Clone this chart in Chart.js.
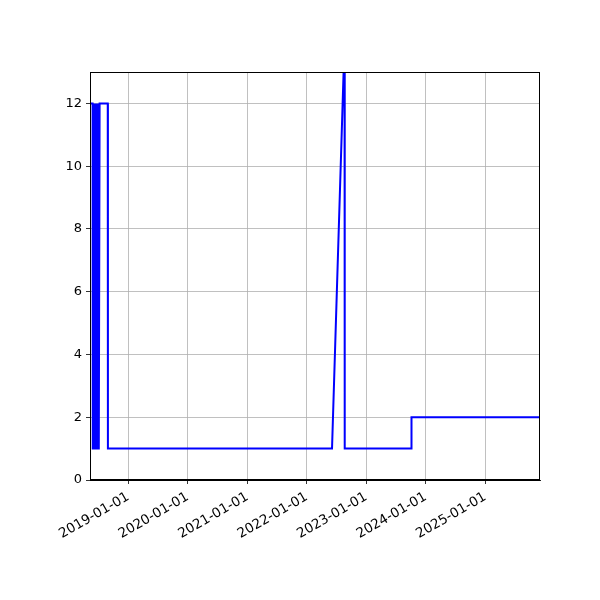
<!DOCTYPE html>
<html>
<head>
<meta charset="utf-8">
<script src="https://cdn.jsdelivr.net/npm/chart.js@4/dist/chart.umd.min.js"></script>
<style>
html,body{margin:0;padding:0;background:#fff;}
canvas{display:block;}
</style>
</head>
<body>
<canvas id="c" width="600" height="600"></canvas>
<script>
const dates = [
  "2018-05-11","2018-05-27","2018-05-28","2018-06-03","2018-06-05","2018-06-07",
  "2018-06-09","2018-06-11","2018-06-13","2018-06-15","2018-06-17","2018-06-19",
  "2018-06-21","2018-06-23","2018-06-25","2018-06-27","2018-06-29","2018-07-01",
  "2018-07-03","2018-07-05","2018-07-09","2018-08-28","2018-08-29","2022-06-05",
  "2022-08-21","2022-08-22","2023-10-05","2023-10-06","2025-12-03"
];
const values = [
  12,12,1,1,12,1,
  12,1,12,1,12,1,
  12,1,12,1,12,1,
  12,1,12,12,1,1,
  14,1,1,2,2
];
const tickYears = [2019,2020,2021,2022,2023,2024,2025];
const yTicks = [0,2,4,6,8,10,12];
const xMinDate = "2018-05-11";
const xMaxDate = "2025-12-03";

const pts = dates.map((d,i)=>({x:Date.parse(d+"T00:00:00Z"), y:values[i]}));
const xTickVals = tickYears.map(y=>Date.UTC(y,0,1));

function fmt(ms){
  const d = new Date(ms);
  const p = n=>String(n).padStart(2,'0');
  return d.getUTCFullYear()+"-"+p(d.getUTCMonth()+1)+"-"+p(d.getUTCDate());
}

const frame = {
  id:'frame',
  afterDraw(chart){
    const a = chart.chartArea, ctx = chart.ctx;
    ctx.save();
    ctx.strokeStyle='#000';
    ctx.lineWidth=1;
    ctx.strokeRect(Math.round(a.left)+0.5, Math.round(a.top)+0.5, Math.round(a.right-a.left)-1, Math.round(a.bottom-a.top)-1);
    ctx.restore();
  }
};

const xfont = {family:"DejaVu Sans", size:13.5};
const yfont = {family:"DejaVu Sans", size:13};

new Chart(document.getElementById('c'), {
  type:'line',
  data:{datasets:[{
    data:pts,
    borderColor:'#0000ff',
    borderWidth:2,
    pointRadius:0,
    tension:0,
    fill:false
  }]},
  options:{
    responsive:false,
    animation:false,
    devicePixelRatio:1,
    layout:{padding:{top:72,right:60,left:0,bottom:0}},
    plugins:{legend:{display:false},tooltip:{enabled:false}},
    scales:{
      x:{
        type:'linear',
        min:Date.parse(xMinDate+"T00:00:00Z"),
        max:Date.parse(xMaxDate+"T00:00:00Z"),
        afterBuildTicks(scale){ scale.ticks = xTickVals.map(v=>({value:v})); },
        afterFit(scale){ scale.height = 120; },
        ticks:{
          callback:(v)=>fmt(v),
          minRotation:30, maxRotation:30,
          color:'#000', font:xfont, padding:5, autoSkip:false
        },
        grid:{color:'#b0b0b0', lineWidth:0.8, tickColor:'#000', tickLength:4, drawTicks:true},
        border:{color:'#000', width:1}
      },
      y:{
        min:0, max:13,
        afterBuildTicks(scale){ scale.ticks = yTicks.map(v=>({value:v})); },
        afterFit(scale){ scale.width = 90; },
        ticks:{color:'#000', font:yfont, padding:4},
        grid:{color:'#b0b0b0', lineWidth:0.8, tickColor:'#000', tickLength:4, drawTicks:true},
        border:{color:'#000', width:1}
      }
    }
  },
  plugins:[frame]
});
</script>
</body>
</html>
